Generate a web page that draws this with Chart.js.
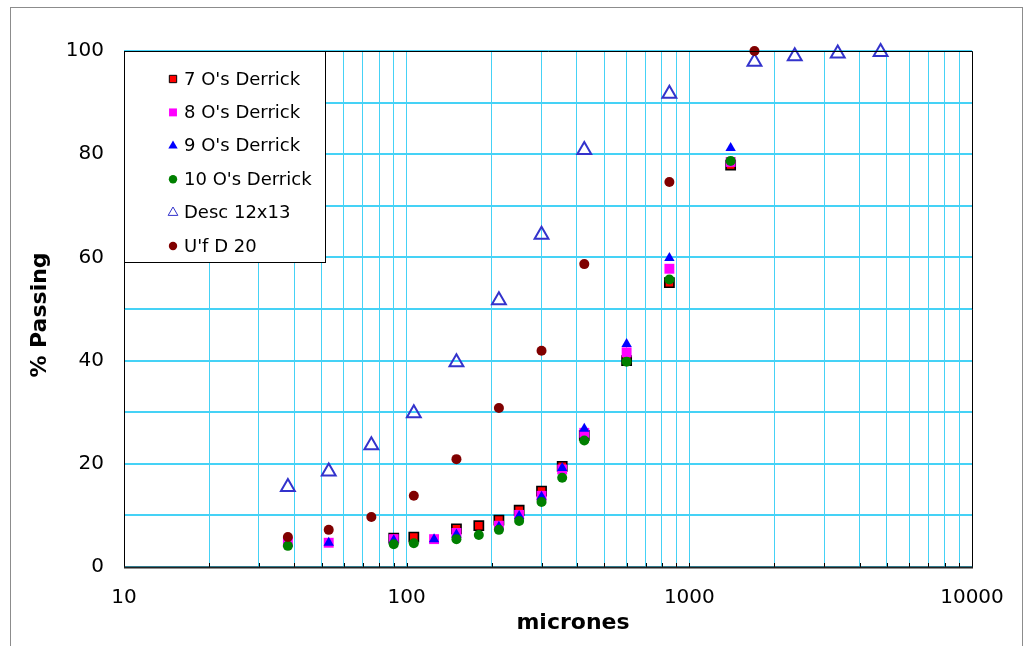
<!DOCTYPE html>
<html>
<head>
<meta charset="utf-8">
<script src="https://cdn.jsdelivr.net/npm/chart.js@4.4.1/dist/chart.umd.min.js"></script>
<style>
  html, body { margin: 0; padding: 0; background: #ffffff; }
  #wrap { width: 1029px; height: 646px; }
</style>
</head>
<body>
<div id="wrap"><canvas id="c" width="1029" height="646"></canvas></div>
<script>
// Sieve sizes (microns) and cumulative % passing for each sample
const sieveDerrick = [38, 53, 90, 106, 125, 150, 180, 212, 250, 300, 355, 425, 600, 850, 1400];
const passing7  = [null, null, 5.6, 5.8, null, 7.4, 8.0, 9.1, 11.0, 14.7, 19.5, 25.5, 40.0, 55.1, 77.9];
const passing8  = [4.9, 4.7, 5.4, null, 5.4, 6.6, null, 8.0, 10.1, 13.8, 18.9, 26.0, 41.6, 57.8, 78.5];
const passing9  = [4.5, 4.7, 5.2, null, 5.4, 6.3, null, 7.8, 9.9, 13.6, 19.2, 26.8, 43.2, 59.9, 81.2];
const passing10 = [4.1, null, 4.4, 4.6, null, 5.4, 6.2, 7.2, 8.9, 12.6, 17.3, 24.5, 39.8, 55.7, 78.7];

const sieveDesc   = [38, 53, 75, 106, 150, 212, 300, 425, 850, 1700, 2360, 3350, 4750];
const passingDesc = [15.5, 18.5, 23.6, 29.8, 39.7, 51.7, 64.4, 80.8, 91.7, 97.9, 99.0, 99.5, 99.8];

const sieveUf   = [38, 53, 75, 106, 150, 212, 300, 425, 850, 1700];
const passingUf = [5.8, 7.2, 9.7, 13.8, 20.9, 30.8, 41.9, 58.7, 74.6, 100];

const seriesNames = ["7 O's Derrick", "8 O's Derrick", "9 O's Derrick", "10 O's Derrick", "Desc 12x13", "U'f D 20"];

// Axis labels
const xTickLabels = [10, 100, 1000, 10000];
const yTickLabels = [0, 20, 40, 60, 80, 100];

function points(xs, ys) {
  const out = [];
  xs.forEach((x, i) => { if (ys[i] !== null) out.push({ x: x, y: ys[i] }); });
  return out;
}

// gridline positions: 1..9 within every decade from 10 to 10000
const xGridValues = [];
for (let d = 10; d < 10000; d *= 10) {
  for (let m = 1; m <= 9; m++) xGridValues.push(m * d);
}
xGridValues.push(10000);

const FONT = "'DejaVu Sans', 'Liberation Sans', Arial, sans-serif";
const GRID = '#45D2F6';

const styles = [
  { pointStyle: 'rect',     radius: 6.5, bg: '#FF0000', border: '#000000', bw: 1.6, lr: 5.2 },
  { pointStyle: 'rect',     radius: 7,   bg: '#FF00FF', border: '#FF00FF', bw: 0,   lr: 5.6 },
  { pointStyle: 'triangle', radius: 6,   bg: '#0000FF', border: '#0000FF', bw: 0,   lr: 5.4 },
  { pointStyle: 'circle',   radius: 5,   bg: '#008000', border: '#008000', bw: 0,   lr: 4.2 },
  { pointStyle: 'triangle', radius: 8,   bg: 'rgba(0,0,0,0)', border: '#3333CC', bw: 2, lr: 5.6 },
  { pointStyle: 'circle',   radius: 5,   bg: '#800000', border: '#800000', bw: 0,   lr: 4.2 }
];

const seriesData = [
  points(sieveDerrick, passing7),
  points(sieveDerrick, passing8),
  points(sieveDerrick, passing9),
  points(sieveDerrick, passing10),
  points(sieveDesc, passingDesc),
  points(sieveUf, passingUf)
];

const datasets = seriesData.map((d, i) => ({
  label: seriesNames[i],
  data: d,
  pointStyle: styles[i].pointStyle,
  pointRadius: styles[i].radius,
  pointHoverRadius: styles[i].radius,
  pointBackgroundColor: styles[i].bg,
  pointBorderColor: styles[i].border,
  pointBorderWidth: styles[i].bw,
  showLine: false,
  clip: false,
  order: seriesNames.length - i   // later series sit on top
}));

// Frame, inner tick marks, axis titles and the boxed legend
const decorations = {
  id: 'decorations',
  beforeDraw(chart) {
    const c = chart.ctx;
    c.save();
    c.fillStyle = '#ffffff';
    c.fillRect(0, 0, chart.width, chart.height);
    c.restore();
  },
  afterDatasetsDraw(chart) {
    const c = chart.ctx;
    const a = chart.chartArea;
    const xs = chart.scales.x;
    c.save();
    // small inward tick marks on the category axis
    c.strokeStyle = '#000000';
    c.lineWidth = 1;
    xGridValues.forEach(v => {
      const px = Math.round(xs.getPixelForValue(v)) + 0.5;
      c.beginPath();
      c.moveTo(px, a.bottom);
      c.lineTo(px, a.bottom - 4);
      c.stroke();
    });
    // plot frame
    c.strokeStyle = '#000000';
    c.lineWidth = 1;
    c.beginPath();
    c.moveTo(a.left + 0.5, a.bottom);
    c.lineTo(a.left + 0.5, a.top + 0.5);
    c.lineTo(a.right + 0.5, a.top + 0.5);
    c.lineTo(a.right + 0.5, a.bottom);
    c.stroke();
    c.strokeStyle = '#222222';
    c.lineWidth = 2;
    c.beginPath();
    c.moveTo(a.left, a.bottom + 0.5);
    c.lineTo(a.right + 1, a.bottom + 0.5);
    c.stroke();

    // legend box
    const lx = a.left, ly = a.top, lw = 201, lh = 211;
    c.fillStyle = '#ffffff';
    c.fillRect(lx, ly, lw, lh);
    c.strokeStyle = '#000000';
    c.lineWidth = 1;
    c.strokeRect(lx + 0.5, ly + 0.5, lw, lh);
    c.font = '18px ' + FONT;
    c.textBaseline = 'middle';
    c.textAlign = 'left';
    seriesNames.forEach((name, i) => {
      const cy = ly + 28 + i * 33.4;
      const s = styles[i];
      c.fillStyle = s.bg;
      c.strokeStyle = s.border;
      Chart.helpers.drawPoint(c, {
        pointStyle: s.pointStyle, radius: s.lr, rotation: 0,
        borderWidth: s.bw
      }, lx + 49, cy);
      c.fillStyle = '#000000';
      c.fillText(name, lx + 60, cy + 1);
    });

    // axis titles
    c.fillStyle = '#000000';
    c.font = 'bold 22px ' + FONT;
    c.textAlign = 'center';
    c.textBaseline = 'middle';
    c.fillText('micrones', 573, 623);
    c.translate(40, 315);
    c.rotate(-Math.PI / 2);
    c.fillText('% Passing', 0, 0);
    c.restore();

    // outer chart border
    c.save();
    c.strokeStyle = '#8c8c8c';
    c.lineWidth = 1;
    c.strokeRect(10.5, 7.5, 1012, 700);
    c.restore();
  }
};

new Chart(document.getElementById('c'), {
  type: 'scatter',
  data: { datasets: datasets },
  plugins: [decorations],
  options: {
    responsive: false,
    animation: false,
    devicePixelRatio: 1,
    layout: { padding: { left: 0, right: 57, top: 51, bottom: 0 } },
    plugins: { legend: { display: false }, tooltip: { enabled: false } },
    scales: {
      x: {
        type: 'logarithmic',
        min: 10,
        max: 10000,
        afterBuildTicks(scale) { scale.ticks = xGridValues.map(v => ({ value: v })); },
        afterFit(scale) { scale.height = 79; },
        ticks: {
          autoSkip: false,
          maxRotation: 0,
          padding: 19,
          color: '#000000',
          font: { family: FONT, size: 20 },
          callback: v => (xTickLabels.includes(v) ? String(v) : '')
        },
        grid: { color: GRID, lineWidth: 1, drawTicks: false },
        border: { display: false }
      },
      y: {
        min: 0,
        max: 100,
        afterFit(scale) { scale.width = 124; },
        ticks: {
          stepSize: 10,
          padding: 20,
          color: '#000000',
          font: { family: FONT, size: 20 },
          callback: v => (yTickLabels.includes(v) ? String(v) : '')
        },
        grid: { color: GRID, lineWidth: 2, drawTicks: false },
        border: { display: false }
      }
    }
  }
});
</script>
</body>
</html>
